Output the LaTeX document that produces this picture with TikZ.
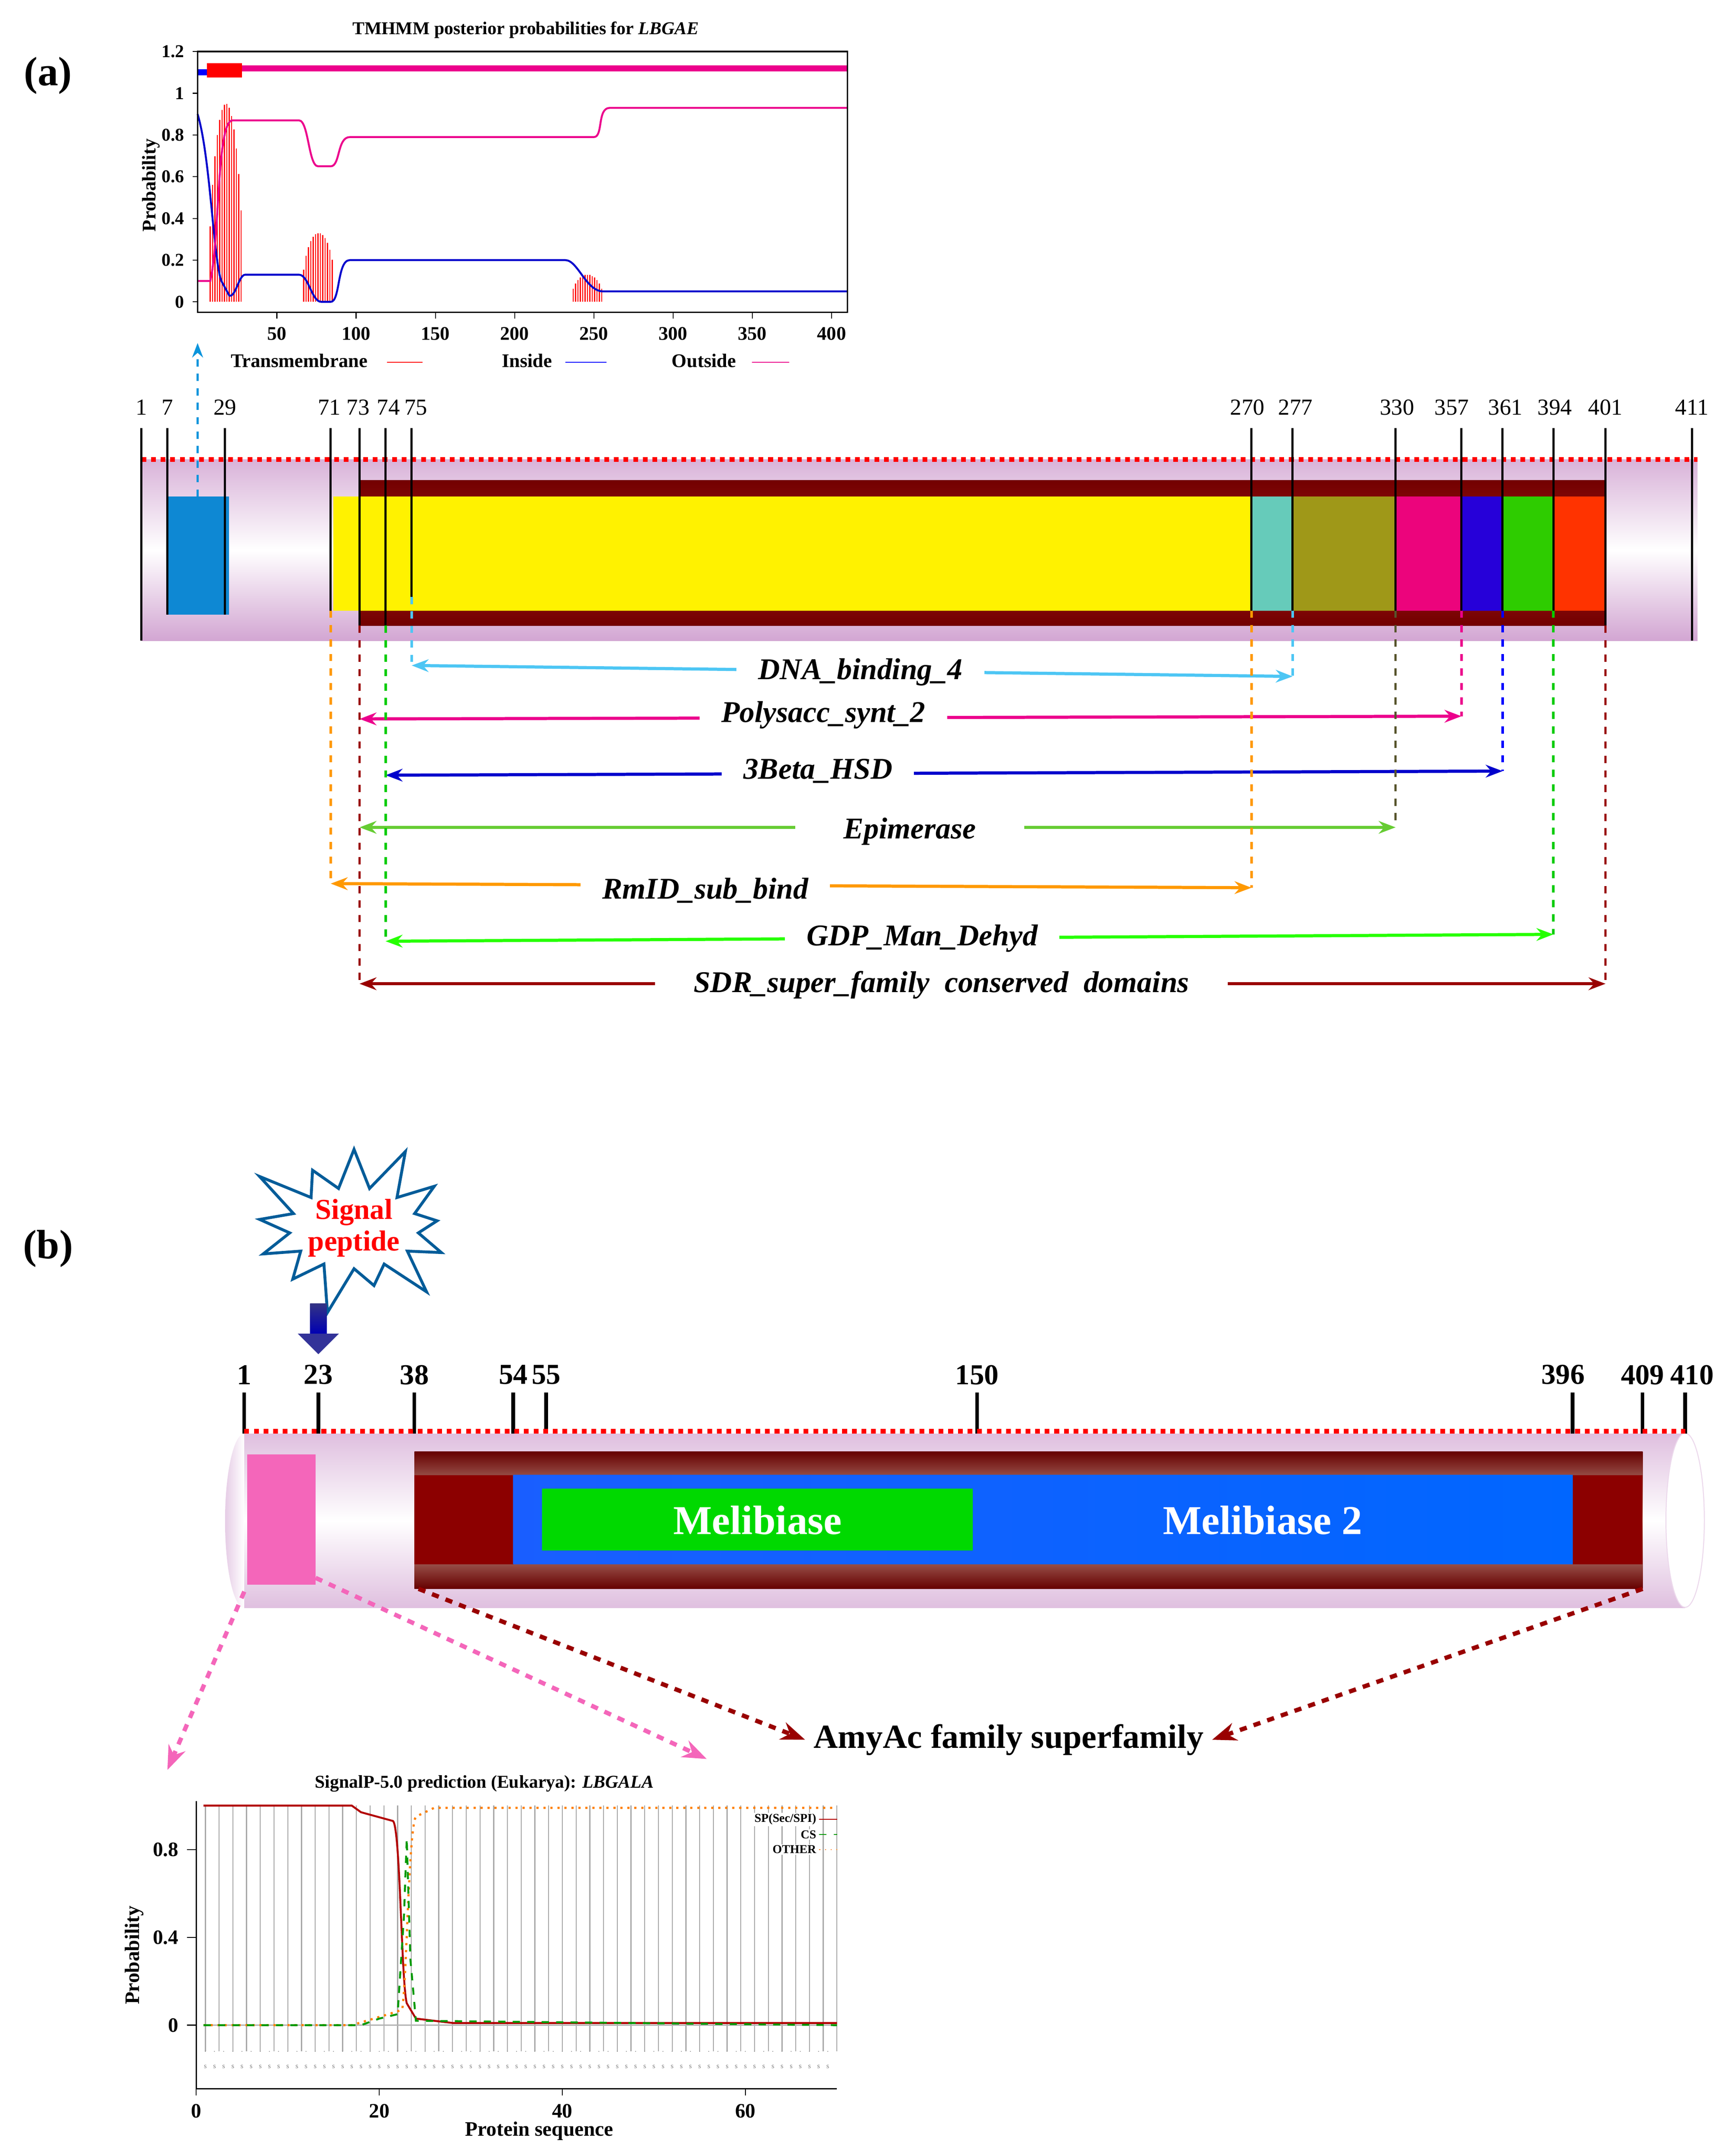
\documentclass[tikz,border=0pt]{standalone}
\usepackage{fontspec}
\setmainfont{Liberation Serif}
\usetikzlibrary{shapes.symbols,arrows.meta}
\begin{document}
\begin{tikzpicture}[x=0.02cm,y=-0.02cm,
 tick/.style={font=\fontsize{9}{10}\selectfont},
 dom/.style={font=\bfseries\itshape\fontsize{12.5}{14}\selectfont,fill=white,inner sep=1pt,inner xsep=9pt},
 arr/.style={line width=1.3pt,{Stealth[length=7pt]}-{Stealth[length=7pt]}},
 dsh/.style={dashed,line width=1pt},
 vl/.style={line width=0.9pt}]
\useasboundingbox (0,0) rectangle (1265,1567);
\node[font=\bfseries\fontsize{17}{18}\selectfont] (la) at (35,55) {(a)};
\node[font=\bfseries\fontsize{17}{18}\selectfont] (lb) at (35,910) {(b)};
% ===== TMHMM plot
\node[font=\bfseries\fontsize{7.5}{8}\selectfont] (tt) at (383,22) {TMHMM posterior probabilities for \textit{LBGAE}};
\begin{scope}[shift={(144,220)},xscale=1.155,yscale=-152]
\foreach \i in {8,9.5,...,28}{\pgfmathsetmacro\h{0.95*sin(180*(\i-7)/22)^0.5}\draw[red,line width=0.45pt] (\i,0)--(\i,\h);}
\foreach \i in {67,68.5,...,86}{\pgfmathsetmacro\h{0.33*sin(180*(\i-66)/21)^0.4}\draw[red,line width=0.45pt] (\i,0)--(\i,\h);}
\foreach \i in {237,238.5,...,255}{\pgfmathsetmacro\h{0.13*sin(180*(\i-236)/20)^0.4}\draw[red,line width=0.45pt] (\i,0)--(\i,\h);}
\draw[blue!80!black,line width=0.8pt] (0,0.9) .. controls (8,0.7) and (10,0.2) .. (15,0.1) -- (20,0.03) .. controls (24,0.02) and (26,0.13) .. (30,0.13) -- (64,0.13) .. controls (70,0.13) and (72,0.0) .. (78,0) -- (84,0) .. controls (90,0) and (88,0.2) .. (96,0.2) -- (232,0.2) .. controls (240,0.2) and (245,0.05) .. (256,0.05) -- (410,0.05);
\draw[magenta,line width=0.8pt] (0,0.1) -- (8,0.1) .. controls (14,0.3) and (12,0.87) .. (22,0.87) -- (64,0.87) .. controls (70,0.87) and (70,0.65) .. (76,0.65) -- (84,0.65) .. controls (90,0.65) and (88,0.79) .. (96,0.79) -- (250,0.79) .. controls (256,0.79) and (252,0.93) .. (260,0.93) -- (410,0.93);
\draw[red,line width=6pt] (6,1.11)--(28,1.11);
\draw[magenta,line width=2.5pt] (28,1.12)--(410,1.12);
\draw[blue,line width=2.5pt] (0,1.1)--(6,1.1);
\draw[line width=0.6pt] (0,1.2) rectangle (410,-0.05);
\foreach \v/\l in {0/0,0.2/0.2,0.4/0.4,0.6/0.6,0.8/0.8,1/1,1.2/1.2}{\draw (0,\v)--(-3,\v) node[left,font=\bfseries\fontsize{7.5}{8}\selectfont]{\l};}
\foreach \v in {50,100,...,400}{\draw (\v,-0.05)--(\v,-0.08) node[below,font=\bfseries\fontsize{8}{9}\selectfont]{\v};}
\end{scope}
\node[rotate=90,font=\bfseries\fontsize{8}{9}\selectfont] (py) at (110,135) {Probability};
\node[font=\bfseries\fontsize{8}{9}\selectfont] (lg1) at (218,263) {Transmembrane};
\draw[red] (282,264)--(308,264);
\node[font=\bfseries\fontsize{8}{9}\selectfont] (lg2) at (384,263) {Inside};
\draw[blue] (412,264)--(442,264);
\node[font=\bfseries\fontsize{8}{9}\selectfont] (lg3) at (513,263) {Outside};
\draw[magenta] (548,264)--(575,264);
% ===== bar (a)
\shade[top color=violet!30,bottom color=violet!35,middle color=white] (103,335) rectangle (1237,467);
\draw[red,dotted,line width=2pt] (103,335)--(1237,335);
\shade[top color=red!45!black,bottom color=red!45!black,middle color=red!60!black!90] (262,350) rectangle (1170,456);
\fill[cyan!70!blue] (122,362) rectangle (167,448);
\fill[yellow] (243,362) rectangle (912,445);
\fill[cyan!50!green!60] (912,362) rectangle (942,445);
\fill[olive!85] (942,362) rectangle (1017,445);
\fill[magenta!85!red] (1017,362) rectangle (1065,445);
\fill[blue!70!violet] (1065,362) rectangle (1095,445);
\fill[green!70!lime!80!black] (1095,362) rectangle (1132,445);
\fill[red!60!orange] (1132,362) rectangle (1170,445);
\foreach \x/\l/\yb in {103/1/467,122/7/448,164/29/448,241/71/445,262/73/456,281/74/456,300/75/435,912/270/445,942/277/445,1017/330/445,1065/357/445,1095/361/445,1132/394/445,1170/401/456,1233/411/467}{
 \draw[vl] (\x,312)--(\x,\yb);}
\foreach \x/\l in {103/1,122/7,164/29,240/71,261/73,283/74,303/75,909/270,944/277,1018/330,1058/357,1097/361,1133/394,1170/401,1233/411}{
 \node[font=\fontsize{9.5}{11}\selectfont,inner sep=1pt] at (\x,297) {\l};}
\draw[dsh,cyan!80!blue,-{Stealth[length=6pt]}] (144,362)--(144,250);
% domain arrows
\coordinate (d1) at (300,485); \coordinate (d2) at (942,493);
\draw[dsh,cyan!70] (300,435)--(d1); \draw[dsh,cyan!70] (942,445)--(d2);
\draw[arr,cyan!70] (d1)--(d2);
\node[dom] (n1) at (627,490) {DNA\_binding\_4};
\coordinate (p1) at (262,524); \coordinate (p2) at (1065,522);
\draw[dsh,magenta] (1065,445)--(p2); \draw[arr,magenta] (p1)--(p2);
\node[dom] (n2) at (600,521) {Polysacc\_synt\_2};
\coordinate (b1) at (281,565); \coordinate (b2) at (1095,562);
\draw[dsh,blue] (1095,445)--(b2); \draw[arr,blue!80!black] (b1)--(b2);
\node[dom] (n3) at (596,562) {3Beta\_HSD};
\coordinate (e1) at (262,603); \coordinate (e2) at (1017,603);
\draw[dsh,olive!50!black] (1017,445)--(e2); \draw[arr,green!50!olive!80] (e1)--(e2);
\node[dom,inner xsep=20pt] (n4) at (663,606) {Epimerase};
\coordinate (r1) at (241,644); \coordinate (r2) at (912,647);
\draw[dsh,orange!80!yellow] (241,445)--(r1); \draw[dsh,orange!80!yellow] (912,445)--(r2); \draw[arr,orange!80!yellow] (r1)--(r2);
\node[dom] (n5) at (514,649) {RmID\_sub\_bind};
\coordinate (g1) at (281,686); \coordinate (g2) at (1132,681);
\draw[dsh,green!80!black] (281,456)--(g1); \draw[dsh,green!80!black] (1132,445)--(g2); \draw[arr,green!80!lime] (g1)--(g2);
\node[dom] (n6) at (672,684) {GDP\_Man\_Dehyd};
\coordinate (s1) at (262,717); \coordinate (s2) at (1170,717);
\draw[dsh,red!60!black] (262,456)--(s1); \draw[dsh,red!60!black] (1170,456)--(s2); \draw[arr,red!60!black] (s1)--(s2);
\node[dom,inner xsep=16pt] (n7) at (686,718) {SDR\_super\_family\ \ conserved\ \ domains};
% ===== (b)
\node[starburst,starburst points=13,starburst point height=22pt,draw=blue!40!cyan!60!black,line width=1.2pt,fill=white,minimum width=3cm,minimum height=1.6cm,font=\bfseries\fontsize{12}{13}\selectfont,text=red,align=center,inner sep=0pt] (sp) at (258,895) {Signal\\peptide};
\shade[top color=blue!40!black!80,bottom color=blue!70!black] (226,950) rectangle (238,972);
\fill[blue!50!black!80] (217,972)--(247,972)--(232,987)--cycle;
\shade[top color=violet!25,bottom color=violet!25,middle color=white] (178,1045) rectangle (1228,1172);
\shade[left color=violet!20,right color=white] (178,1045) arc (90:270:0.28cm and 1.27cm)--cycle;
\fill[white] (1228,1108) ellipse (0.28cm and 1.27cm);
\shade[left color=white,right color=violet!20] (1228,1045) arc (90:-90:0.28cm and 1.27cm) arc (-90:90:0.28cm and 1.27cm);
\draw[violet!15] (1228,1108) ellipse (0.28cm and 1.27cm);
\foreach \x in {178,232,302,374,398,712,1146,1197,1228}{\draw[line width=1.5pt] (\x,1015)--(\x,1045);}
\foreach \x/\l in {178/1,232/23,302/38,374/54,398/55,712/150,1139/396,1197/409,1233/410}{
 \node[font=\fontsize{12}{13}\selectfont\bfseries,inner sep=1pt] at (\x,1002) {\l};}
\draw[red,dotted,line width=2pt] (178,1043)--(1228,1043);
\fill[magenta!60] (180,1060) rectangle (230,1155);
\shade[top color=red!40!black,bottom color=red!40!black,middle color=brown!30!white] (302,1058) rectangle (1197,1158);
\fill[red!55!black] (302,1075) rectangle (374,1140);
\fill[red!55!black] (1146,1075) rectangle (1197,1140);
\shade[left color=blue!70!cyan!90,right color=blue!60!cyan] (374,1075) rectangle (1146,1140);
\fill[green!85!black] (395,1085) rectangle (709,1130);
\node[font=\bfseries\fontsize{17}{18}\selectfont,text=white] (m1) at (552,1108) {Melibiase};
\node[font=\bfseries\fontsize{17}{18}\selectfont,text=white] (m2) at (920,1108) {Melibiase 2};
\node[font=\bfseries\fontsize{14}{15}\selectfont] (am) at (735,1268) {AmyAc family superfamily};
\draw[dsh,magenta!60,line width=1.8pt,-{Stealth[length=10pt]}] (178,1160)--(122,1290);
\draw[dsh,magenta!60,line width=1.8pt,-{Stealth[length=10pt]}] (230,1150)--(515,1282);
\draw[dsh,red!60!black,line width=1.8pt,-{Stealth[length=10pt]}] (305,1158)--(am.west);
\draw[dsh,red!60!black,line width=1.8pt,-{Stealth[length=10pt]}] (1197,1158)--(am.east);
% ===== SignalP plot
\node[font=\bfseries\fontsize{7.5}{8}\selectfont] (st) at (353,1300) {SignalP-5.0 prediction (Eukarya): \textit{LBGALA}};
\begin{scope}[shift={(143,1476)},xscale=6.67,yscale=-160]
\foreach \i in {1,2.5,...,70}{\draw[gray!70,line width=0.4pt] (\i,-0.12)--(\i,1.0);}
\foreach \i in {1,...,69}{\node[font=\fontsize{3}{3}\selectfont,gray] at (\i,-0.12) {.}; \node[font=\fontsize{3}{3}\selectfont,gray] at (\i,-0.19) {s};}
\draw[gray!60] (0.8,0)--(70,0);
\draw[red!70!black,line width=0.8pt] (0.8,1)--(17,1)--(18,0.97)--(21.5,0.93) .. controls (22.3,0.9) and (22.4,0.2) .. (23,0.1)--(24,0.03)--(28,0.01)--(70,0.01);
\draw[orange,dotted,line width=0.9pt] (0.8,0)--(17,0)--(21,0.05)--(22.5,0.07) .. controls (23,0.2) and (23.2,0.9) .. (24,0.95)--(26,0.99)--(70,0.99);
\draw[green!60!black,dashed,line width=0.8pt] (0.8,0)--(18,0)--(20,0.03)--(22,0.05)--(22.7,0.5)--(23,0.85)--(23.4,0.3)--(24,0.02)--(70,0);
\draw[line width=0.6pt] (0,-0.29)--(0,1.02) (0,-0.29)--(70,-0.29);
\foreach \v in {0,0.4,0.8}{\draw (0,\v)--(-1,\v) node[left,font=\bfseries\fontsize{8.5}{9}\selectfont]{\v};}
\foreach \v in {0,20,40,60}{\draw (\v,-0.29)--(\v,-0.32) node[below,font=\bfseries\fontsize{8.5}{9}\selectfont]{\v};}
\end{scope}
\node[font=\bfseries\fontsize{5}{5}\selectfont,anchor=east,fill=white,inner sep=0.5pt] at (596,1326) {SP(Sec/SPI)}; \draw[red!70!black] (597,1326)--(610,1326);
\node[font=\bfseries\fontsize{5}{5}\selectfont,anchor=east,fill=white,inner sep=0.5pt] at (596,1337) {CS}; \draw[green!60!black,dashed] (597,1337)--(610,1337);
\node[font=\bfseries\fontsize{5}{5}\selectfont,anchor=east,fill=white,inner sep=0.5pt] at (596,1348) {OTHER}; \draw[orange,dotted] (597,1348)--(610,1348);
\node[rotate=90,font=\bfseries\fontsize{8.5}{9}\selectfont] (py2) at (98,1425) {Probability};
\node[font=\bfseries\fontsize{8.5}{9}\selectfont] (px2) at (393,1553) {Protein sequence};
\end{tikzpicture}
\end{document}
